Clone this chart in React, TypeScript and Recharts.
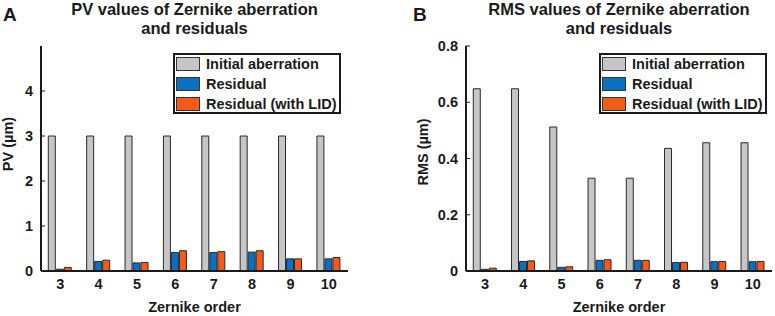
import React from "react";
import { Bar, BarChart, XAxis, YAxis } from "recharts";

const orders = ["3", "4", "5", "6", "7", "8", "9", "10"];
const pvInitial = [3, 3, 3, 3, 3, 3, 3, 3];
const pvResidual = [0.04, 0.21, 0.18, 0.41, 0.41, 0.42, 0.27, 0.27];
const pvResidualLid = [0.08, 0.24, 0.19, 0.45, 0.43, 0.45, 0.27, 0.3];
const rmsInitial = [0.648, 0.648, 0.512, 0.33, 0.33, 0.436, 0.456, 0.456];
const rmsResidual = [0.006, 0.034, 0.013, 0.038, 0.038, 0.03, 0.033, 0.033];
const rmsResidualLid = [0.01, 0.036, 0.015, 0.04, 0.038, 0.031, 0.034, 0.034];
const pvTicks = [0, 1, 2, 3, 4];
const rmsTicks = [0, 0.2, 0.4, 0.6, 0.8];
const seriesNames = ["Initial aberration", "Residual", "Residual (with LID)"];

const FONT = "'Liberation Sans', Arial, sans-serif";
const GRAY = "#c6c6c6";
const BLUE = "#0b6fc2";
const ORANGE = "#f45a18";
const INK = "#1a1a1a";

const pvData = orders.map((o, i) => ({ order: o, initial: pvInitial[i], residual: pvResidual[i], lid: pvResidualLid[i] }));
const rmsData = orders.map((o, i) => ({ order: o, initial: rmsInitial[i], residual: rmsResidual[i], lid: rmsResidualLid[i] }));

const text: React.CSSProperties = { position: "absolute", fontFamily: FONT, fontWeight: 700, color: INK, whiteSpace: "nowrap" };

function LegendBox({ left }: { left: number }) {
  const colors = [GRAY, BLUE, ORANGE];
  return (
    <div style={{ position: "absolute", left, top: 53, width: 168, height: 61, border: `2px solid ${INK}`, boxSizing: "border-box", background: "#fff" }}>
      {seriesNames.map((n, i) => (
        <div key={n} style={{ position: "absolute", left: 1, top: 1 + i * 20, height: 16, display: "flex", alignItems: "center" }}>
          <div style={{ width: 24, height: 14, background: colors[i], border: "1px solid #333", boxSizing: "border-box" }} />
          <span style={{ marginLeft: 6, fontFamily: FONT, fontWeight: 700, fontSize: 14.5, color: INK }}>{n}</span>
        </div>
      ))}
    </div>
  );
}

function Panel({
  letter,
  title,
  yLabel,
  data,
  domain,
  ticks,
  width,
  plotLeft,
  plotRight,
  legendLeft,
  letterLeft,
  yLabelX,
  yLabelY,
}: {
  letter: string;
  title: string;
  yLabel: string;
  data: { order: string; initial: number; residual: number; lid: number }[];
  domain: [number, number];
  ticks: number[];
  width: number;
  plotLeft: number;
  plotRight: number;
  legendLeft: number;
  letterLeft: number;
  yLabelX: number;
  yLabelY: number;
}) {
  const center = (plotLeft + plotRight) / 2;
  const tickStyle = { fontFamily: FONT, fontWeight: 700, fontSize: 14.5, fill: INK };
  return (
    <div style={{ position: "relative", width, height: 316 }}>
      <BarChart
        width={width}
        height={316}
        data={data}
        margin={{ top: 46, right: width - plotRight, bottom: 0, left: 0 }}
        barCategoryGap="19%"
        barGap={1}
      >
        <XAxis
          dataKey="order"
          height={45}
          tickLine={false}
          tickSize={0}
          tickMargin={8}
          axisLine={{ stroke: INK, strokeWidth: 2 }}
          tick={tickStyle}
        />
        <XAxis xAxisId="top" dataKey="order" orientation="top" height={0} tick={false} tickLine={false} axisLine={{ stroke: INK, strokeWidth: 2 }} />
        <YAxis
          width={plotLeft}
          domain={domain}
          ticks={ticks}
          tickSize={-4}
          tickMargin={12}
          tickLine={{ stroke: INK }}
          axisLine={{ stroke: INK, strokeWidth: 2 }}
          tick={tickStyle}
          allowDataOverflow
        />
        <YAxis yAxisId="right" orientation="right" width={0} domain={domain} tick={false} tickLine={false} axisLine={{ stroke: INK, strokeWidth: 2 }} />
        <Bar dataKey="initial" fill={GRAY} stroke="#2a2a2a" strokeWidth={1} isAnimationActive={false} />
        <Bar dataKey="residual" fill={BLUE} stroke="#2a2a2a" strokeWidth={1} isAnimationActive={false} />
        <Bar dataKey="lid" fill={ORANGE} stroke="#2a2a2a" strokeWidth={1} isAnimationActive={false} />
      </BarChart>
      <div style={{ ...text, left: letterLeft, top: 4, fontSize: 19 }}>{letter}</div>
      <div style={{ ...text, left: center - 150, width: 300, top: 0, textAlign: "center", fontSize: 16.5, lineHeight: "19px", whiteSpace: "normal" }}>
        {title}
        <br />
        and residuals
      </div>
      <div
        style={{
          ...text,
          left: yLabelX,
          top: yLabelY,
          fontSize: 14.5,
          transform: "translate(-50%, -50%) rotate(-90deg)",
        }}
      >
        {yLabel}
      </div>
      <div style={{ ...text, left: center - 100, width: 200, top: 299, textAlign: "center", fontSize: 14.5 }}>Zernike order</div>
      <LegendBox left={legendLeft} />
    </div>
  );
}

export default function App() {
  return (
    <div style={{ position: "absolute", left: 0, top: 0, width: 775, height: 316, background: "#fff", display: "flex" }}>
      <Panel
        letter="A"
        title="PV values of Zernike aberration"
        yLabel="PV (µm)"
        data={pvData}
        domain={[0, 5]}
        ticks={pvTicks}
        width={390}
        plotLeft={41}
        plotRight={348}
        legendLeft={173}
        letterLeft={3}
        yLabelX={8}
        yLabelY={144}
      />
      <Panel
        letter="B"
        title="RMS values of Zernike aberration"
        yLabel="RMS (µm)"
        data={rmsData}
        domain={[0, 0.8]}
        ticks={rmsTicks}
        width={385}
        plotLeft={76}
        plotRight={382}
        legendLeft={209}
        letterLeft={23}
        yLabelX={33}
        yLabelY={152}
      />
    </div>
  );
}
